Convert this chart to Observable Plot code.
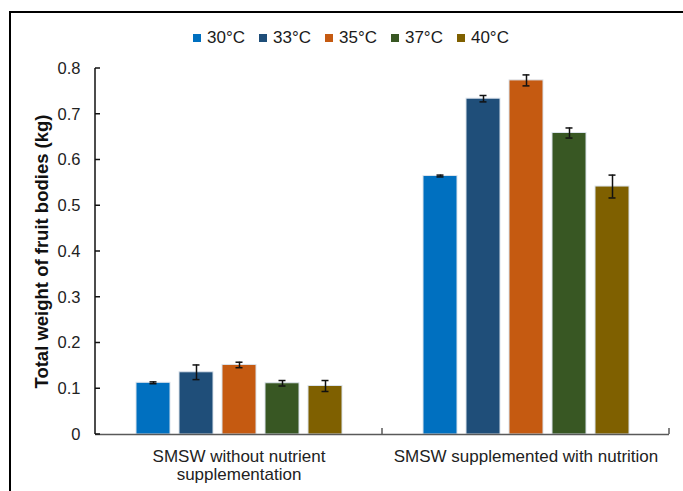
<!DOCTYPE html>
<html>
<head>
<meta charset="utf-8">
<script src="https://cdn.jsdelivr.net/npm/d3@7"></script>
<script src="https://cdn.jsdelivr.net/npm/@observablehq/plot@0.6"></script>
<style>
  html, body { margin: 0; padding: 0; background: #fff; overflow: hidden; }
  #wrap { position: relative; width: 683px; height: 491px; font-family: "Liberation Sans", Arial, sans-serif; }
  #border { position: absolute; left: 9px; top: 11px; width: 700px; height: 500px; border-left: 2px solid #000; border-top: 2px solid #000; box-sizing: border-box; }
  #legend { position: absolute; left: 193px; top: 28px; height: 19px; display: flex; align-items: center; font-size: 17px; color: #1a1a1a; }
  .item { display: flex; align-items: center; margin-right: 14px; }
  .sw { width: 8px; height: 8px; margin-right: 6px; }
  #chart { position: absolute; left: 0; top: 50px; }
</style>
</head>
<body>
<div id="wrap">
  <div id="border"></div>
  <div id="legend"></div>
  <div id="chart"></div>
</div>
<script>
const groups = ["SMSW without nutrient supplementation", "SMSW supplemented with nutrition"];
const groupLabels = ["SMSW without nutrient\nsupplementation", "SMSW supplemented with nutrition"];
const temps = ["30°C", "33°C", "35°C", "37°C", "40°C"];
const colors = ["#0070C0", "#1F4E79", "#C55A11", "#385723", "#7F6000"];
const withoutNutrient = [0.113, 0.136, 0.152, 0.112, 0.106];
const withoutNutrientErr = [0.002, 0.016, 0.006, 0.006, 0.012];
const withNutrition = [0.565, 0.734, 0.774, 0.659, 0.542];
const withNutritionErr = [0.002, 0.007, 0.012, 0.011, 0.025];
const yTicks = [0, 0.1, 0.2, 0.3, 0.4, 0.5, 0.6, 0.7, 0.8];
const yLabel = "Total weight of fruit bodies (kg)";

const data = [];
temps.forEach((t, i) => {
  data.push({group: groups[0], temp: t, value: withoutNutrient[i], err: withoutNutrientErr[i]});
  data.push({group: groups[1], temp: t, value: withNutrition[i], err: withNutritionErr[i]});
});

// legend
const legend = d3.select("#legend");
temps.forEach((t, i) => {
  const it = legend.append("div").attr("class", "item");
  it.append("div").attr("class", "sw").style("background", colors[i]);
  it.append("span").text(t);
});

const font = "'Liberation Sans', Arial, sans-serif";
const chart = Plot.plot({
  width: 683,
  height: 441,
  marginLeft: 95,
  marginRight: 14,
  marginTop: 18,
  marginBottom: 57,
  style: {fontFamily: font, background: "transparent", overflow: "visible"},
  fx: {domain: groups, padding: 0, label: null, axis: null},
  x: {domain: temps, paddingInner: 0.216, paddingOuter: 0.87, axis: null},
  y: {domain: [0, 0.8], axis: null},
  color: {domain: temps, range: colors},
  marks: [
    Plot.barY(data, {fx: "group", x: "temp", y: "value", fill: "temp", stroke: "#dbe3ec", strokeWidth: 1}),
    Plot.ruleX(data, {fx: "group", x: "temp", y1: d => d.value - d.err, y2: d => d.value + d.err, stroke: "#111", strokeWidth: 1.5}),
    Plot.tickY(data, {fx: "group", x: "temp", y: d => d.value - d.err, insetLeft: 13.5, insetRight: 13.5, stroke: "#111", strokeWidth: 1.5}),
    Plot.tickY(data, {fx: "group", x: "temp", y: d => d.value + d.err, insetLeft: 13.5, insetRight: 13.5, stroke: "#111", strokeWidth: 1.5}),
    Plot.ruleY([0], {stroke: "#595959", strokeWidth: 1.5}),
    Plot.axisY(yTicks, {tickSize: 0, tickPadding: 15, fontSize: 16.5, label: null, fill: "#222", tickFormat: d3.format("")}),
    Plot.axisFx({anchor: "bottom", tickSize: 0, tickPadding: 14, fontSize: 17, label: null, fill: "#222", lineHeight: 1.08,
      tickFormat: g => groupLabels[groups.indexOf(g)]}),
    Plot.text([{g: groups[0], t: yLabel}], {fx: "g", text: "t", frameAnchor: "left", textAnchor: "middle", rotate: -90, dx: -53,
      fontSize: 18.5, fontWeight: "bold", fill: "#111"})
  ]
});
document.getElementById("chart").appendChild(chart);

// axis line, inward ticks, and category separators drawn from the plot's scales
const y = chart.scale("y"), fx = chart.scale("fx");
const svg = d3.select(chart);
const gx = svg.append("g").attr("stroke", "#111").attr("stroke-width", 1.5).attr("fill", "none");
const left = fx.apply(groups[0]);
gx.append("line").attr("x1", left).attr("x2", left).attr("y1", y.apply(0.8)).attr("y2", y.apply(0));
yTicks.forEach(v => {
  gx.append("line").attr("x1", left).attr("x2", left + 5).attr("y1", y.apply(v)).attr("y2", y.apply(v));
});
groups.forEach(g => {
  const xr = fx.apply(g) + fx.bandwidth;
  gx.append("line").attr("x1", xr).attr("x2", xr).attr("y1", y.apply(0)).attr("y2", y.apply(0) - 6).attr("stroke", "#595959");
});
</script>
</body>
</html>
